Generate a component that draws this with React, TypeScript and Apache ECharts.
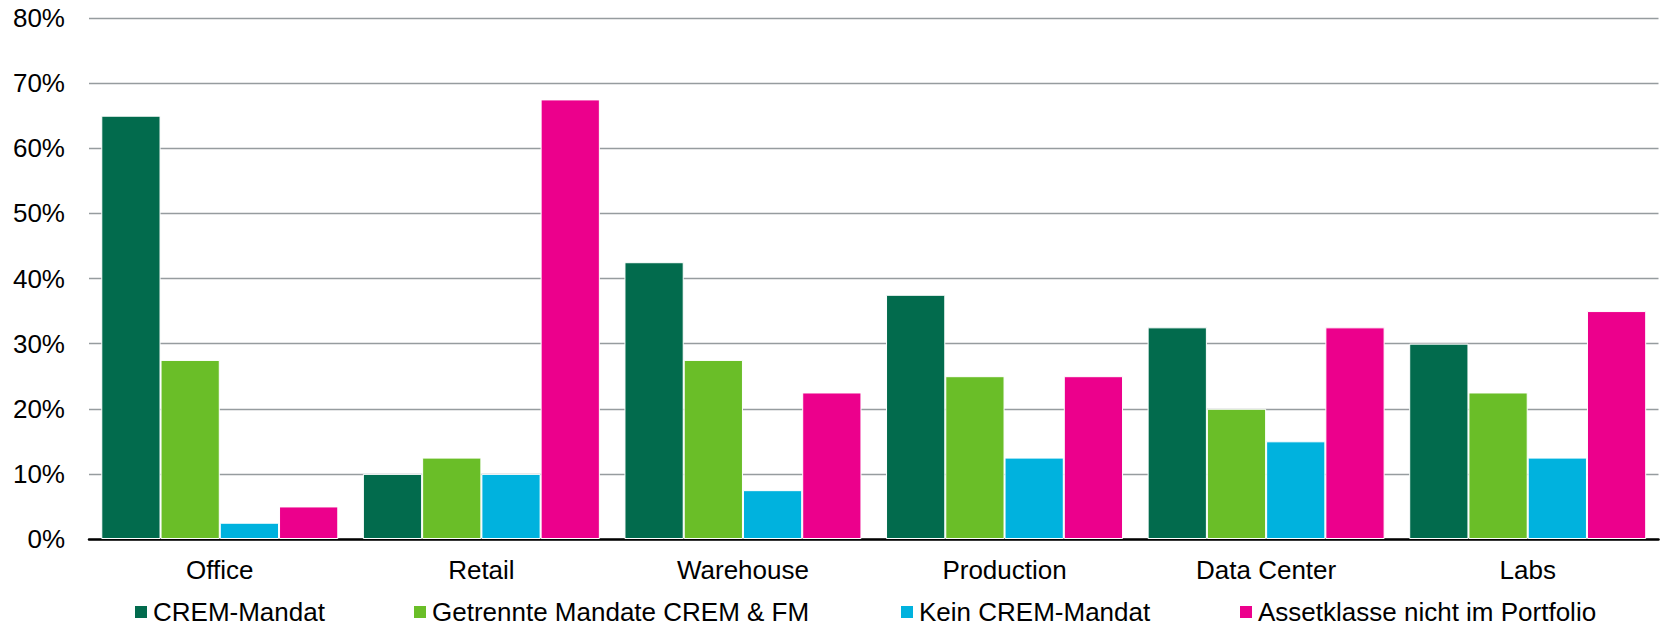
import React, { useEffect, useRef } from "react";
import * as echarts from "echarts";

const categories = ["Office", "Retail", "Warehouse", "Production", "Data Center", "Labs"];
const seriesNames = [
  "CREM-Mandat",
  "Getrennte Mandate CREM & FM",
  "Kein CREM-Mandat",
  "Assetklasse nicht im Portfolio",
];
const cremMandat = [65, 10, 42.5, 37.5, 32.5, 30];
const getrennteMandate = [27.5, 12.5, 27.5, 25, 20, 22.5];
const keinCrem = [2.5, 10, 7.5, 12.5, 15, 12.5];
const assetklasseNicht = [5, 67.5, 22.5, 25, 32.5, 35];
const seriesColors = ["#026b4d", "#6abe28", "#00b2de", "#ec008c"];
const legendLefts = [133, 412, 899, 1238];

const FONT = "'Liberation Sans', Arial, sans-serif";

export default function App() {
  const ref = useRef<HTMLDivElement>(null);
  useEffect(() => {
    if (!ref.current) return;
    const chart = echarts.init(ref.current, undefined, { renderer: "svg" });
    const values = [cremMandat, getrennteMandate, keinCrem, assetklasseNicht];
    chart.setOption({
      animation: false,
      backgroundColor: "#ffffff",
      textStyle: { fontFamily: FONT },
      grid: { left: 89, right: 8.5, top: 18, bottom: 88, containLabel: false },
      legend: seriesNames.map((name, i) => ({
        data: [name],
        left: legendLefts[i],
        top: 598,
        padding: 0,
        itemWidth: 14,
        itemHeight: 14,
        itemGap: 0,
        icon: "rect",
        textStyle: { fontSize: 26, color: "#000", fontFamily: FONT, lineHeight: 28 },
      })),
      xAxis: {
        type: "category",
        data: categories,
        axisLine: { show: true, lineStyle: { color: "#000", width: 2.5 } },
        axisTick: { show: false },
        axisLabel: { fontSize: 26, color: "#000", margin: 18, fontFamily: FONT },
        splitLine: { show: false },
      },
      yAxis: {
        type: "value",
        min: 0,
        max: 80,
        interval: 10,
        axisLine: { show: false },
        axisTick: { show: false },
        axisLabel: {
          formatter: "{value}%",
          fontSize: 26,
          color: "#000",
          margin: 24,
          fontFamily: FONT,
        },
        splitLine: { show: true, lineStyle: { color: "#969c9f", width: 1.3 } },
      },
      series: seriesNames.map((name, i) => ({
        name,
        type: "bar",
        data: values[i],
        barGap: "0%",
        barCategoryGap: "9.4%",
        itemStyle: { color: seriesColors[i], borderColor: "#ffffff", borderWidth: 1 },
      })),
    });
    return () => chart.dispose();
  }, []);
  return (
    <div
      ref={ref}
      style={{ position: "fixed", left: 0, top: 0, width: 1667, height: 627, background: "#fff" }}
    />
  );
}
